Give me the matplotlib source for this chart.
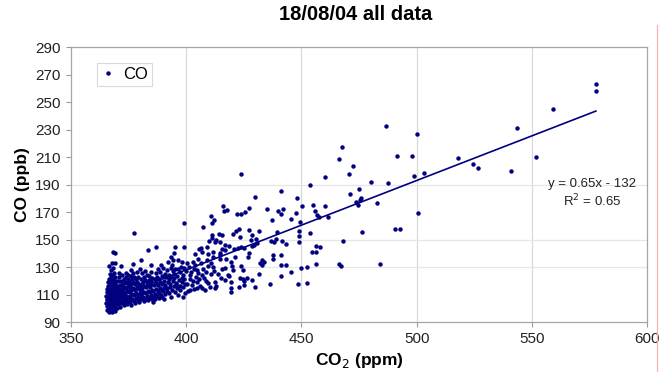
import numpy as np
import matplotlib
matplotlib.use("Agg")
import matplotlib.pyplot as plt
from matplotlib.lines import Line2D

plt.rcParams['font.family'] = ['Liberation Sans', 'DejaVu Sans']

# dense blob of background readings (co2 ppm, co ppb)
core_pts = [
    (365.8, 99), (366.5, 97.5), (367.2, 98.5), (368, 97), (368.6, 99.5), (369.3, 98.2),
    (365.5, 101.5), (366.3, 100.5), (367, 101.8), (367.8, 100.2), (368.5, 102), (369.2, 101), (370, 100.5),
    (365.4, 104), (366.1, 103.2), (366.9, 104.5), (367.6, 103), (368.4, 104.8), (369.1, 103.5), (369.9, 104), (370.6, 102.8),
    (365.6, 106.5), (366.4, 105.8), (367.2, 107), (368, 106), (368.7, 107.3), (369.5, 106.2), (370.3, 107), (371, 105.5),
    (365.3, 109), (366, 108.2), (366.8, 109.5), (367.5, 108.5), (368.3, 110), (369, 108.8), (369.8, 109.6), (370.6, 108.5), (371.4, 109.2),
    (365.5, 111.5), (366.3, 110.8), (367.1, 112), (367.9, 111), (368.6, 112.5), (369.4, 111.3), (370.2, 112), (371, 111.5),
    (365.7, 114), (366.5, 113.3), (367.3, 114.6), (368.1, 113.6), (368.9, 115), (369.7, 114), (370.5, 114.8),
    (365.9, 116.5), (366.7, 115.8), (367.5, 117), (368.3, 116.2), (369.1, 117.5), (369.9, 116.5),
    (366.2, 119), (367, 118.3), (367.8, 119.8), (368.6, 118.8), (369.4, 120),
    (366.5, 121.5), (367.3, 122.5), (368.1, 121.2), (368.9, 123),
    (366.9, 125), (367.7, 124.2), (368.5, 126), (367.2, 127.5), (368.3, 129), (366.6, 131), (368, 133),
]

# band running right from the blob
band_pts = [
    (371.8, 103.5), (372.5, 105), (373.2, 104.2), (374, 106), (374.8, 105.2),
    (371.6, 107.5), (372.4, 108.8), (373.1, 107.6), (373.9, 109.2), (374.7, 108),
    (371.9, 111), (372.7, 112.3), (373.5, 111.2), (374.3, 112.8), (375.1, 111.6),
    (372.2, 114.5), (373, 115.8), (373.8, 114.6), (374.6, 116.2), (375.4, 115),
    (372.5, 118), (373.3, 119.3), (374.1, 118.1), (375, 119.6),
    (372.8, 121.5), (373.7, 122.8), (374.6, 121.3), (372.1, 124), (373.9, 125.5),
    (375.6, 104.8), (376.4, 106.5), (377.2, 105.3), (378, 107.2), (378.9, 106), (379.7, 107.8),
    (375.8, 109.2), (376.6, 110.5), (377.4, 109.4), (378.3, 111), (379.1, 109.8), (379.9, 111.4),
    (376, 113.5), (376.8, 114.8), (377.7, 113.6), (378.5, 115.2), (379.4, 114), (380.2, 115.5),
    (376.2, 117.5), (377.1, 118.8), (377.9, 117.6), (378.8, 119.2), (379.6, 118),
    (376.5, 121.5), (377.4, 122.6), (378.3, 121.2), (379.2, 123), (377, 125.5), (378.6, 126.5),
    (380.5, 106.5), (381.3, 108.2), (382.1, 107), (383, 108.8), (383.8, 107.5), (384.6, 109.3),
    (380.8, 110.8), (381.6, 112.2), (382.5, 111), (383.3, 112.7), (384.2, 111.5), (385, 113),
    (381, 115), (381.9, 116.4), (382.7, 115.2), (383.6, 116.8), (384.4, 115.6),
    (381.3, 119), (382.2, 120.3), (383.1, 119.2), (384, 120.8), (384.9, 119.5),
    (381.7, 123), (382.8, 124.2), (383.9, 123.3), (382.3, 127),
    (385.5, 108), (386.4, 110.2), (387.3, 108.8), (388.2, 110.8), (389.1, 109.5),
    (385.8, 112.5), (386.7, 114), (387.6, 112.8), (388.5, 114.5), (389.4, 113.2), (390.2, 115),
    (386, 117), (386.9, 118.5), (387.8, 117.2), (388.8, 119), (389.7, 117.8),
    (386.3, 121.5), (387.3, 122.8), (388.3, 121.4), (389.3, 123.2),
    (386.8, 125.5), (388.6, 126.5), (385.4, 104.5),
    (390.6, 110.5), (391.6, 112.5), (392.7, 111), (393.8, 113.2), (395, 112), (396.2, 114.5), (397.5, 113), (398.8, 115.5),
    (390.9, 117), (392, 119), (393.1, 117.6), (394.3, 119.8), (395.5, 118.2), (396.7, 120.5), (398, 119), (399.2, 121.5),
    (391.2, 122.5), (392.4, 124.2), (393.6, 123), (394.8, 125.2), (396, 123.8), (397.3, 126.2), (398.6, 124.5), (399.8, 127),
    (391.8, 127.5), (393.3, 129), (395.3, 128.5), (397.8, 130.2), (390.3, 106.8), (393.4, 108.2), (396.4, 109.6),
    (400.5, 118), (401.8, 121.5), (403, 119.5), (404.2, 123), (405.6, 121), (406.9, 124.5), (402.3, 126.5),
    (404.8, 127.5), (401, 130), (407.5, 128.5), (408.8, 120), (400.8, 112.5), (403.5, 114), (406.2, 116.5), (409.5, 118.5),
]

# extra readings filling the gaps inside the band
fill_pts = [
    (371.2, 101.2), (372.9, 102.5), (374.4, 103.1), (376.1, 102.6), (377.8, 103.8), (379.3, 104.6),
    (371.3, 113.2), (371.2, 117.2), (371.5, 120.2), (370.8, 122.8), (370.2, 119.5), (370.7, 125.6),
    (375.2, 107.2), (375.5, 113.3), (375.7, 117.3), (375.9, 123.6), (374.9, 124.4), (376.1, 128.2),
    (380.3, 109.3), (380.4, 113), (380.6, 117.4), (380.3, 121.2), (380.9, 125.5), (379.8, 128.7),
    (381.9, 105), (383.4, 105.8), (385.1, 106.4), (384.9, 117.4), (385.2, 122.3), (384.6, 126.3),
    (386.3, 107), (388, 107.3), (389.6, 107.9), (390.1, 112.6), (390.4, 120.2), (390.7, 125.3),
    (389.9, 129.3), (387.6, 128.8), (391.5, 114.8), (392.9, 115.3), (394.6, 115.9), (396.1, 117),
    (397.2, 116.4), (398.3, 122), (394.9, 122.1), (392.6, 121.3), (394.2, 127.4), (396.6, 128.9),
    (399.4, 111.2), (399.5, 117.8), (399.1, 129.6), (401.6, 124.4), (403.2, 128.7), (405.3, 125.4),
    (402.5, 117.1), (404.6, 118.8), (407.6, 122), (408.7, 126.4), (410.8, 124.8), (412.2, 127.4),
    (413.7, 125.1), (411.5, 130.2), (409.6, 130.9), (403.8, 131.3), (400.2, 133.1), (398.1, 133.8),
]

# scattered plume readings
spread_pts = [
    (577.8, 263.3), (577.8, 258.5), (559, 244.9), (543.5, 231), (552, 210), (541, 200),
    (526.6, 202), (524.6, 205), (517.8, 209.5), (503.2, 198.4), (500.2, 227), (498.2, 210.5),
    (498.8, 196), (486.8, 233), (491.7, 211), (487.5, 191.3), (480.4, 191.6), (482.8, 176.8),
    (475, 187), (476, 180), (473.7, 177.5), (474.4, 175), (471, 183), (467.5, 217.5),
    (466.4, 208.8), (472.5, 203.5), (470.8, 198), (500.6, 169.5), (490.7, 158), (492.9, 157.6),
    (476.4, 155.5), (484, 132), (467.9, 149), (467.2, 130.7), (466.4, 132.2), (475.4, 178.7),
    (460.4, 195.7), (460.4, 174.4), (461.7, 166.4), (457.8, 166.6), (458.2, 144.8),
    (424, 197.6), (453.9, 189.9), (441.3, 185.3), (430, 181.1), (448.1, 180.4), (415.9, 174.8),
    (416.4, 171), (417.7, 171.2), (422, 168.5), (424, 168.3), (425.6, 170.2), (427.4, 173.1),
    (435.2, 172), (439.9, 171), (441.8, 172), (441.3, 168.5), (437.1, 164), (445.4, 164.9),
    (447.5, 169), (449.6, 162.5), (450.3, 174.1), (455.2, 175.3), (456.1, 171), (456.8, 168),
    (422.7, 157.9), (421.4, 156.2), (420.3, 154), (415.4, 153.3), (427.2, 157.1), (431.7, 156.2),
    (428.7, 153.5), (423.5, 151.8), (414.8, 148.4), (416.7, 146), (418.5, 145), (428.2, 149.6),
    (430.1, 150.6), (430.7, 147.7), (428.4, 145), (429.5, 145.8), (439.5, 155.7), (436.9, 149.1),
    (438.2, 148.4), (439, 150.1), (441.6, 148.7), (443.2, 146.7), (449.1, 156.4), (449.1, 152.5),
    (449, 148.4), (453.8, 155), (456.5, 145), (415.5, 142.9), (414.8, 140.4), (420.7, 143.3),
    (422.3, 143.8), (423.7, 144.3), (424.9, 143.8), (417.4, 135.6), (419.6, 133.4), (421.1, 137),
    (427.2, 140.2), (426.9, 137), (432.8, 135.1), (432.1, 133.1), (433.7, 133.6), (432.7, 131.2),
    (437.6, 138.7), (441.3, 138.5), (437.6, 135.6), (441, 131.5), (443.1, 131.2), (454.8, 140.9),
    (456.5, 132.4), (449.7, 129), (452.3, 130), (414.5, 135.6), (415.4, 128.8), (420.1, 128),
    (419.8, 130.5), (418.7, 123.5), (423.6, 130.5), (424.5, 127.8), (423.2, 122.2), (424.5, 121.3),
    (425.2, 119.8), (426.6, 122.2), (428.4, 120.5), (429.8, 115.7), (422.7, 115.5), (424.9, 117),
    (419.6, 111.8), (431.7, 125.1), (416.7, 120.5), (441.3, 123.2), (436.3, 117.4), (445.5, 126.1),
    (448.6, 117.4), (452.4, 118.6), (456.4, 141.1),
    (377.3, 154.5), (368.3, 141.1), (369.2, 140), (383.6, 142.4), (386.7, 144.3), (380.2, 134.9),
    (376.7, 132.2), (371.9, 131), (369.2, 133.1), (384.9, 131.2), (389.1, 131.7), (394.6, 140),
    (395.3, 144.3), (394.3, 135.1), (399.2, 162.2), (398.9, 144.3), (392.1, 133.9), (394, 131.2),
    (407.3, 159.3), (410.9, 167.1), (411.9, 164.2), (411.3, 162.2), (409.9, 149.1), (412.8, 149.6),
    (411.3, 153.3), (414.2, 153.8), (405.5, 142.9), (403.7, 139.2), (405.1, 135.6), (409, 144.8),
    (409.4, 139.2), (409.2, 135.1), (411.6, 141.1), (412.3, 114.5), (413.1, 116), (408, 113.3),
    (406.7, 115), (401.5, 113.3), (398.6, 108.4), (393.6, 137.5), (406.3, 144), (406.8, 141.1),
    (402.9, 133.9), (406.6, 132.7), (411.6, 137.5), (410.6, 132.7), (414.5, 138.7), (416.7, 142.4),
    (416.7, 129), (418.1, 124.2), (415.2, 121.8), (412.3, 119.3), (410.2, 115.7), (419.6, 119.3),
    (419.3, 114.5), (404.8, 114.5), (411.2, 151.3), (412.6, 148), (396.5, 135.1),
]

trend_slope = 0.65
trend_intercept = -132
eq_text = "y = 0.65x - 132"
r2_text = "R$^2$ = 0.65"

x_ticks = [350, 400, 450, 500, 550, 600]
y_ticks = [90, 110, 130, 150, 170, 190, 210, 230, 250, 270, 290]
grid_y = [130, 150, 190]

pts = np.array(core_pts + band_pts + fill_pts + spread_pts)
co2 = pts[:, 0]
co = pts[:, 1]

navy = '#000080'
fig = plt.figure(figsize=(6.65, 3.72), dpi=100)
ax = fig.add_axes([71 / 665, 1 - 322 / 372, 576 / 665, 274.7 / 372])

for gx in x_ticks[1:-1]:
    ax.axvline(gx, color='#d9d9d9', lw=0.9, zorder=0)
for gy in grid_y:
    ax.axhline(gy, color='#e6e6e6', lw=0.9, zorder=0)

ax.plot(co2, co, 'o', color=navy, ms=3.2, mew=0, zorder=2)

xl = np.array([co2.min(), co2.max()])
ax.plot(xl, trend_slope * xl + trend_intercept, color=navy, lw=1.2, zorder=3)

ax.set_xlim(350, 600)
ax.set_ylim(90, 290)
ax.set_xticks(x_ticks)
ax.set_yticks(y_ticks)
ax.tick_params(direction='out', length=3.5, width=0.8, color='#9a9a9a',
               labelsize=11, labelcolor='#222222', pad=4)
for s in ax.spines.values():
    s.set_color('#a6a6a6')
    s.set_linewidth(0.9)

ax.set_xlabel('CO$_2$ (ppm)', fontsize=12.5, fontweight='bold', labelpad=3)
ax.set_ylabel('CO (ppb)', fontsize=12.5, fontweight='bold', labelpad=4)
fig.text(0.535, 0.96, '18/08/04 all data', fontsize=14.5, fontweight='bold',
         ha='center', va='center')

# equation labels sit right under the trend line end
ax.text(576, 190.3, eq_text, fontsize=9.5, ha='center', va='center', color='#222222')
ax.text(576, 177.8, r2_text, fontsize=9.5, ha='center', va='center', color='#222222')

h = Line2D([], [], ls='', marker='o', color=navy, ms=3.2, mew=0)
leg = ax.legend([h], ['CO'], loc='upper left', bbox_to_anchor=(0.045, 0.943),
                borderaxespad=0, fontsize=12, frameon=True, fancybox=False,
                handlelength=0.8, handletextpad=0.5, borderpad=0.25)
leg.get_frame().set_edgecolor('#d0d0d0')
leg.get_frame().set_linewidth(0.8)

fig.add_artist(Line2D([657 / 665, 657 / 665], [0, 1 - 25 / 372],
                      transform=fig.transFigure, color='#f4b5b5', lw=0.9))

fig.savefig('out.png', dpi=100)
